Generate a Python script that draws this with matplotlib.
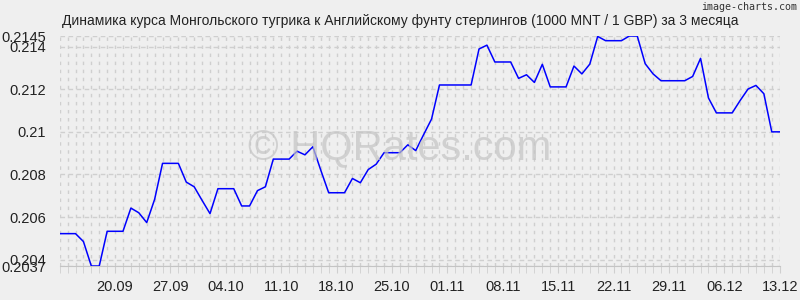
import numpy as np
import pandas as pd
import matplotlib
matplotlib.use("Agg")
import matplotlib.pyplot as plt
from matplotlib.ticker import FixedLocator, MultipleLocator

# daily rate, 13.09 .. 13.12
dates = pd.date_range("2013-09-13", "2013-12-13", freq="D")
rates = [
    0.20522, 0.20522, 0.20522, 0.20485, 0.20370, 0.20370, 0.20533, 0.20533,
    0.20533, 0.20642, 0.20620, 0.20574, 0.20683, 0.20852, 0.20852, 0.20852,
    0.20764, 0.20742, 0.20678, 0.20616, 0.20733, 0.20733, 0.20733, 0.20652,
    0.20652, 0.20724, 0.20742, 0.20872, 0.20872, 0.20872, 0.20909, 0.20892,
    0.20930, 0.20820, 0.20714, 0.20714, 0.20714, 0.20781, 0.20761, 0.20823,
    0.20848, 0.20902, 0.20902, 0.20902, 0.20939, 0.20912, 0.20987, 0.21060,
    0.21220, 0.21220, 0.21220, 0.21220, 0.21220, 0.21389, 0.21407, 0.21328,
    0.21328, 0.21328, 0.21251, 0.21268, 0.21232, 0.21317, 0.21211, 0.21211,
    0.21211, 0.21309, 0.21272, 0.21318, 0.21448, 0.21428, 0.21428, 0.21428,
    0.21450, 0.21450, 0.21320, 0.21272, 0.21240, 0.21240, 0.21240, 0.21240,
    0.21260, 0.21345, 0.21159, 0.21089, 0.21089, 0.21089, 0.21147, 0.21201,
    0.21218, 0.21179, 0.21000, 0.21000,
]
tick_labels = ["20.09", "27.09", "04.10", "11.10", "18.10", "25.10", "01.11",
               "08.11", "15.11", "22.11", "29.11", "06.12", "13.12"]
y_ticks = [0.2037, 0.204, 0.206, 0.208, 0.21, 0.212, 0.214, 0.2145]
y_labels = ["0.2037", "0.204", "0.206", "0.208", "0.21", "0.212", "0.214", "0.2145"]

title = ("Динамика курса Монгольского тугрика к Английскому фунту стерлингов "
         "(1000 MNT / 1 GBP) за 3 месяца")

plt.rcParams['font.family'] = ['Liberation Sans', 'DejaVu Sans']
bg = "#efefef"
gridc = "#cfcfcf"

x = np.arange(len(dates))
# position of each labelled date, in days from the first one
tick_pos = [(pd.Timestamp("2013-%s-%s" % (d[3:], d[:2])) - dates[0]).days
            for d in tick_labels]

fig = plt.figure(figsize=(8, 3), dpi=100, facecolor=bg)
ax = fig.add_axes([0.0746, 0.1133, 0.9, 0.7667], facecolor=bg)

ax.plot(x, rates, color="#0000ff", lw=1.1, zorder=3)

ax.set_xlim(0, len(dates) - 1)
ax.set_ylim(0.2037, 0.2145)

ax.xaxis.set_major_locator(FixedLocator(tick_pos))
ax.set_xticklabels(tick_labels)
ax.xaxis.set_minor_locator(MultipleLocator(1))
ax.yaxis.set_major_locator(FixedLocator(y_ticks))
ax.set_yticklabels(y_labels)

ax.grid(which="both", axis="x", color=gridc, lw=1, linestyle=(0, (2.5, 3.3)))
ax.grid(which="major", axis="y", color=gridc, lw=1, linestyle=(0, (3.3, 2.5)))

for s in ["top", "right", "left"]:
    ax.spines[s].set_visible(False)
ax.spines["bottom"].set_color("#c4c4c4")

ax.tick_params(axis="x", which="both", length=5, color=gridc, pad=5,
               labelsize=10.5, labelcolor="#222222")
ax.tick_params(axis="y", length=0, pad=10, labelsize=10.5, labelcolor="#222222")

fig.text(0.0775, 0.915, title, fontsize=10, color="#222222", ha="left", va="baseline")
fig.text(0.996, 0.975, "image-charts.com", fontsize=7.2, family="DejaVu Sans Mono",
         color="#333333", ha="right", va="center")
fig.text(0.5, 0.505, "© HQRates.com", fontsize=30, color="#c4c4c4", alpha=0.7,
         ha="center", va="center", zorder=0)

fig.savefig("out.png", dpi=100, facecolor=bg)
